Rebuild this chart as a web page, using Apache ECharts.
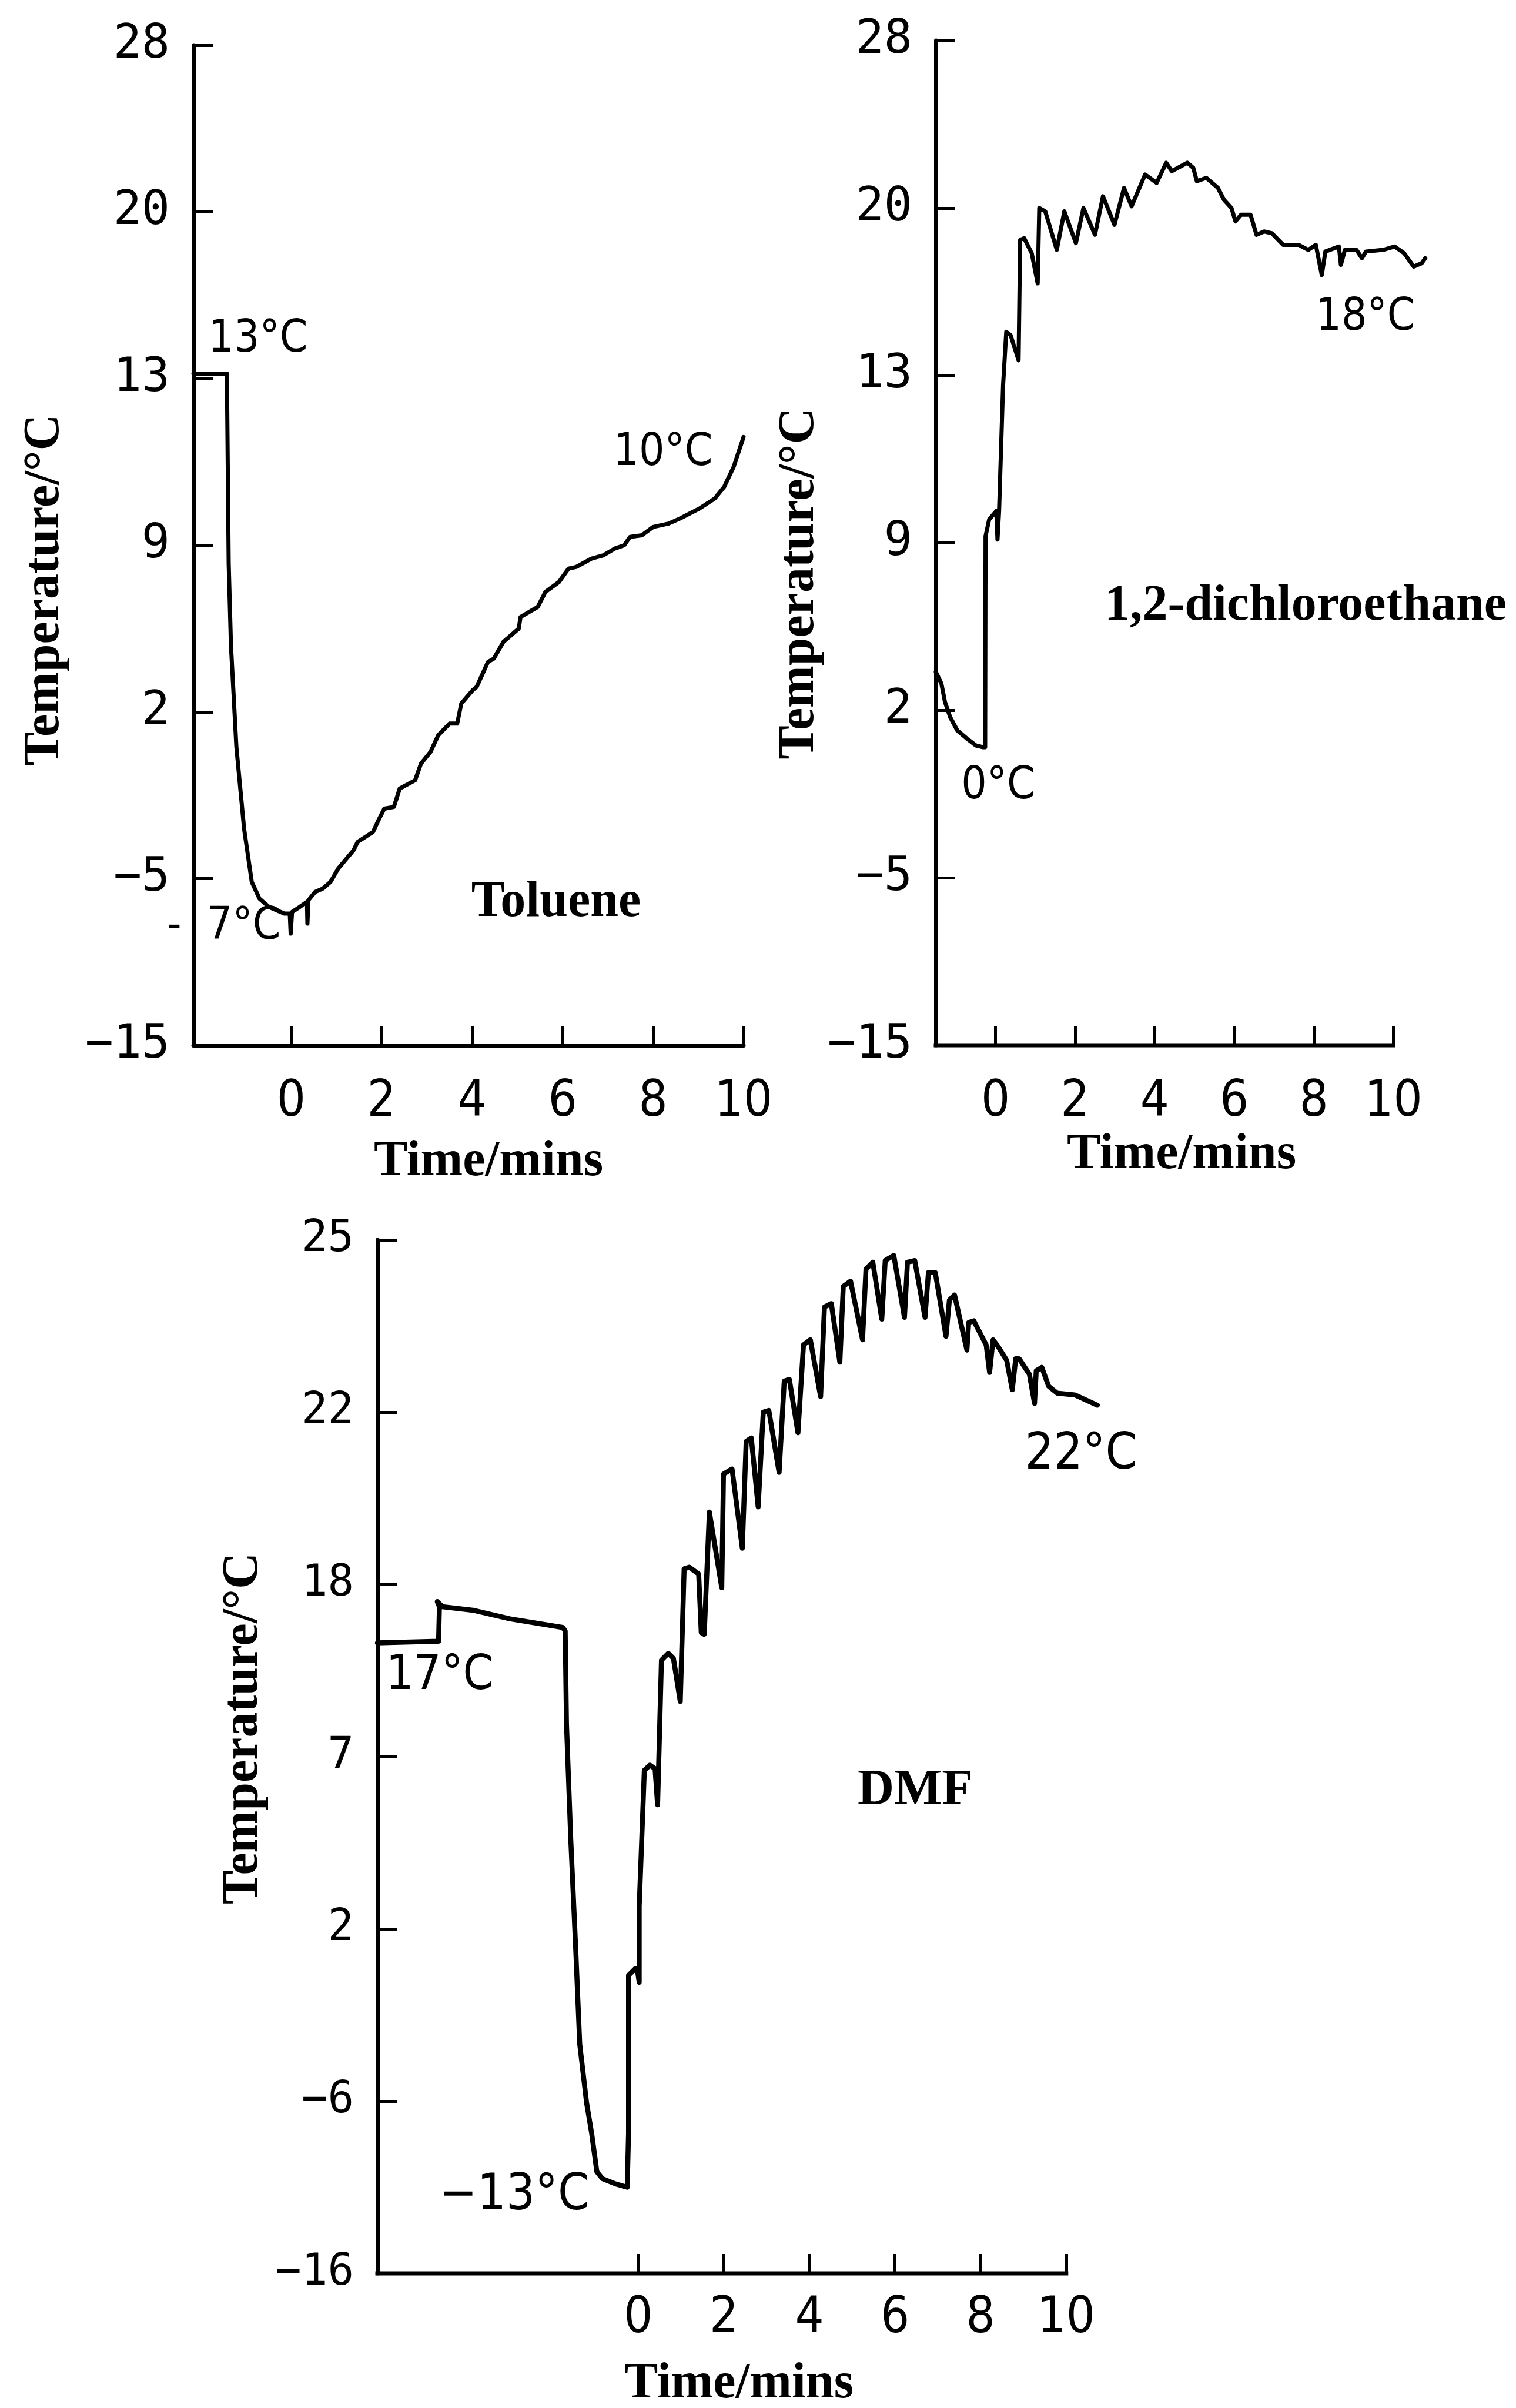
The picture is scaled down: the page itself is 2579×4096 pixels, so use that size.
<!DOCTYPE html>
<html>
<head>
<meta charset="utf-8">
<script src="https://cdn.jsdelivr.net/npm/echarts@6/dist/echarts.min.js"></script>
<style>
html,body{margin:0;padding:0;background:#fff;}
#c{width:2579px;height:4096px;}
</style>
</head>
<body>
<div id="c"></div>
<script>
// ---------- DATA ----------
// Time in minutes; vertical values are positions on each panel's temperature
// scale measured in tick steps (0 = bottom tick, 6 = top tick), because the
// printed temperature scales are not linear.
const X_TICKS = [0, 2, 4, 6, 8, 10];
const TOLUENE_Y_TICKS = ['\u221215', '\u22125', '2', '9', '13', '20', '28'];
const DCE_Y_TICKS = ['\u221215', '\u22125', '2', '9', '13', '20', '28'];
const DMF_Y_TICKS = ['\u221216', '\u22126', '2', '7', '18', '22', '25'];

const tolueneTime = [-2.16,-1.42,-1.38,-1.33,-1.21,-1.04,-0.87,-0.70,-0.49,-0.15,-0.03,-0.01,0.02,0.19,0.35,0.36,0.38,0.53,0.70,0.87,1.04,1.38,1.47,1.81,1.93,2.06,2.27,2.40,2.74,2.87,3.08,3.25,3.50,3.67,3.76,4.01,4.10,4.35,4.48,4.69,5.03,5.07,5.45,5.62,5.92,6.13,6.30,6.64,6.90,7.15,7.36,7.49,7.75,8.00,8.34,8.59,9.02,9.36,9.57,9.78,10.00];
const tolueneLevel = [4.03,4.03,2.89,2.40,1.79,1.30,0.98,0.88,0.83,0.79,0.79,0.67,0.80,0.83,0.86,0.73,0.87,0.92,0.94,0.98,1.06,1.17,1.22,1.28,1.35,1.42,1.43,1.54,1.59,1.69,1.76,1.86,1.93,1.93,2.05,2.13,2.15,2.30,2.32,2.42,2.50,2.57,2.63,2.72,2.78,2.86,2.87,2.92,2.94,2.98,3.00,3.05,3.06,3.11,3.13,3.16,3.22,3.28,3.35,3.47,3.65];

const dceTime = [-1.50,-1.36,-1.27,-1.14,-0.96,-0.71,-0.49,-0.31,-0.26,-0.25,-0.16,0.02,0.05,0.09,0.19,0.27,0.38,0.58,0.62,0.72,0.91,1.06,1.10,1.25,1.54,1.73,2.02,2.21,2.50,2.70,2.99,3.23,3.42,3.76,4.05,4.29,4.43,4.82,4.97,5.06,5.30,5.59,5.74,5.93,6.03,6.17,6.41,6.56,6.75,6.94,7.23,7.62,7.86,8.05,8.20,8.29,8.63,8.68,8.78,9.07,9.21,9.31,9.74,10.03,10.27,10.51,10.71,10.80];
const dceLevel = [2.23,2.16,2.05,1.96,1.88,1.83,1.79,1.78,1.78,3.04,3.14,3.19,3.02,3.19,3.94,4.26,4.24,4.09,4.81,4.82,4.73,4.55,5.00,4.98,4.75,4.98,4.79,5.00,4.84,5.07,4.90,5.12,5.01,5.20,5.15,5.27,5.22,5.27,5.24,5.16,5.18,5.12,5.05,5.00,4.92,4.96,4.96,4.84,4.86,4.85,4.78,4.78,4.75,4.78,4.60,4.74,4.77,4.66,4.75,4.75,4.70,4.74,4.75,4.77,4.73,4.65,4.67,4.70];

const dmfTime = [-6.10,-4.67,-4.65,-4.70,-4.58,-3.87,-3.00,-1.77,-1.71,-1.68,-1.58,-1.46,-1.37,-1.21,-1.09,-0.97,-0.84,-0.54,-0.26,-0.23,-0.23,-0.07,-0.01,0.02,0.02,0.14,0.27,0.39,0.45,0.54,0.70,0.82,0.98,1.07,1.19,1.41,1.47,1.54,1.66,1.95,1.99,2.19,2.43,2.52,2.64,2.80,2.92,3.05,3.29,3.41,3.53,3.73,3.86,4.02,4.26,4.35,4.51,4.71,4.79,4.96,5.24,5.32,5.48,5.69,5.77,5.97,6.22,6.29,6.46,6.70,6.78,6.94,7.19,7.27,7.39,7.68,7.72,7.84,8.13,8.21,8.29,8.41,8.61,8.74,8.82,8.90,9.14,9.26,9.30,9.43,9.59,9.79,10.20,10.73];
const dmfLevel = [3.66,3.67,3.87,3.90,3.87,3.85,3.80,3.75,3.73,3.19,2.52,1.86,1.33,0.99,0.81,0.59,0.55,0.52,0.50,0.81,1.73,1.77,1.74,1.69,2.13,2.92,2.95,2.93,2.72,3.56,3.60,3.57,3.32,4.09,4.10,4.06,3.72,3.71,4.42,3.98,4.64,4.67,4.21,4.83,4.85,4.45,5.00,5.01,4.65,5.18,5.19,4.88,5.39,5.42,5.09,5.61,5.63,5.29,5.73,5.76,5.42,5.83,5.87,5.54,5.88,5.91,5.55,5.87,5.88,5.55,5.81,5.81,5.44,5.65,5.68,5.36,5.52,5.53,5.39,5.23,5.42,5.38,5.30,5.13,5.31,5.31,5.22,5.05,5.24,5.26,5.15,5.11,5.10,5.04];

// ---------- CHART ----------
const zip = (a, b) => a.map((v, i) => [v, b[i]]);
const INK = '#000';
const TICK_FONT = "'DejaVu Sans Mono', monospace";
const XTICK_FONT = "'Liberation Sans Narrow','DejaVu Sans Condensed','Liberation Sans',sans-serif";
const NOTE_FONT = "'Liberation Sans Narrow','DejaVu Sans Condensed','Liberation Sans',sans-serif";
const BOLD_FONT = "'Liberation Serif','DejaVu Serif',serif";

const panels = [
  {grid:{left:329, top:77, width:936, height:1701}, xmin:-2.16, xmax:10, yTicks:TOLUENE_Y_TICKS,
   ySize:80, xMargin:55, xGap:156, xPad:[0,0,0,68], yGap:209, yPad:[0,152,0,0], axisSeries:false,
   data:zip(tolueneTime, tolueneLevel), lw:7},
  {grid:{left:1592, top:69, width:836, height:1709}, xmin:-1.5, xmax:10.85, yTicks:DCE_Y_TICKS,
   ySize:80, xMargin:55, xGap:144, xPad:[0,0,0,0], yGap:180, yPad:[0,138,0,0], axisSeries:true,
   data:zip(dceTime, dceLevel), lw:7},
  {grid:{left:642, top:2109, width:1230, height:1758}, xmin:-6.1, xmax:10.8, yTicks:DMF_Y_TICKS,
   ySize:74, xMargin:35, xGap:146, xPad:[0,0,0,0], yGap:184, yPad:[0,0,0,96], axisSeries:true,
   data:zip(dmfTime, dmfLevel), lw:8.5}
];

const grids = [], xAxes = [], yAxes = [], series = [];
panels.forEach((p, i) => {
  grids.push(Object.assign({outerBoundsMode:'none', containLabel:false}, p.grid));
  xAxes.push({
    type:'value', gridIndex:i, min:p.xmin, max:p.xmax,
    name:'Time/mins', nameLocation:'middle', nameGap:p.xGap,
    nameTextStyle:{fontFamily:BOLD_FONT, fontWeight:'bold', fontSize:86, color:INK, padding:p.xPad},
    axisLine:{show:!p.axisSeries, onZero:false, lineStyle:{color:INK, width:7}},
    axisTick:{show:true, inside:true, length:33, customValues:X_TICKS, lineStyle:{color:INK, width:5}},
    axisLabel:{show:true, customValues:X_TICKS, margin:p.xMargin, fontFamily:XTICK_FONT, fontSize:86, color:INK},
    splitLine:{show:false}
  });
  yAxes.push({
    type:'value', gridIndex:i, min:0, max:6, interval:1,
    name:'Temperature/\u00B0C', nameLocation:'middle', nameRotate:90, nameGap:p.yGap,
    nameTextStyle:{fontFamily:BOLD_FONT, fontWeight:'bold', fontSize:86, color:INK, padding:p.yPad},
    axisLine:{show:true, onZero:false, lineStyle:{color:INK, width:7}},
    axisTick:{show:true, inside:true, length:33, lineStyle:{color:INK, width:5}},
    axisLabel:{show:true, margin:40, fontFamily:TICK_FONT, fontSize:p.ySize, color:INK,
      formatter:(v) => p.yTicks[Math.round(v)]},
    splitLine:{show:false}
  });
  series.push({
    type:'line', xAxisIndex:i, yAxisIndex:i, data:p.data, showSymbol:false, symbol:'none',
    clip:false, silent:true, animation:false,
    lineStyle:{color:INK, width:p.lw, join:'round', cap:'round'}
  });
  if (p.axisSeries) {
    series.push({
      type:'line', xAxisIndex:i, yAxisIndex:i, data:[[p.xmin, 0], [X_TICKS[X_TICKS.length-1], 0]],
      showSymbol:false, symbol:'none', clip:false, silent:true, animation:false,
      lineStyle:{color:INK, width:7, cap:'square'}
    });
  }
});

function note(text, x, y, size, bold, align) {
  return {type:'text', x:x, y:y, silent:true, style:{
    text:text, fill:INK, fontSize:size,
    fontFamily: bold ? BOLD_FONT : NOTE_FONT, fontWeight: bold ? 'bold' : 'normal',
    align: align || 'center', verticalAlign:'middle'}};
}

const option = {
  backgroundColor:'#fff',
  animation:false,
  grid:grids, xAxis:xAxes, yAxis:yAxes, series:series,
  graphic:[
    note('13\u00B0C', 439, 578, 76),
    note('10\u00B0C', 1128, 771, 76),
    note('-  7\u00B0C', 284, 1577, 76, false, 'left'),
    note('Toluene', 946, 1536, 86, true),
    note('1,2-dichloroethane', 2221, 1032, 86, true),
    note('0\u00B0C', 1698, 1338, 76),
    note('18\u00B0C', 2323, 541, 76),
    note('22\u00B0C', 1839, 2476, 86),
    note('17\u00B0C', 748, 2852, 82),
    note('\u221213\u00B0C', 875, 3736, 86),
    note('DMF', 1557, 3047, 86, true)
  ]
};

const chart = echarts.init(document.getElementById('c'), null, {renderer:'canvas', width:2579, height:4096});
chart.setOption(option);
</script>
</body>
</html>
